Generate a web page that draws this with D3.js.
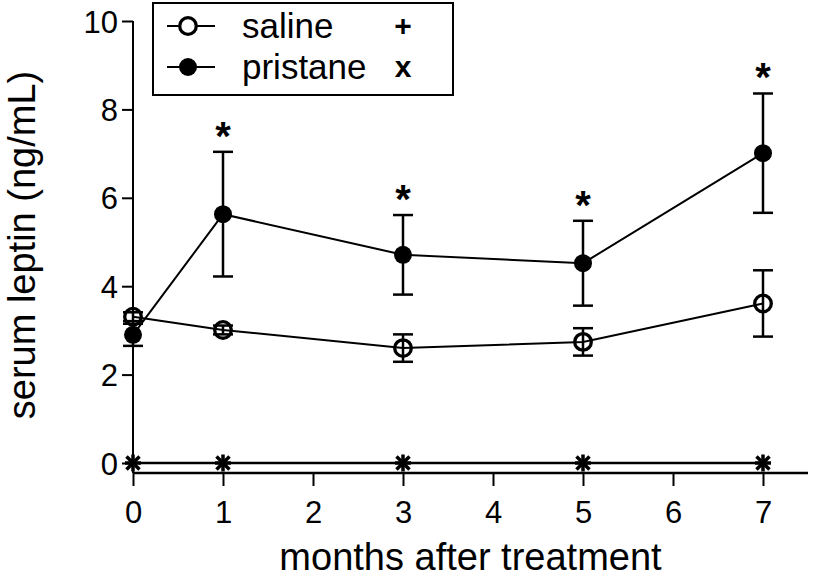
<!DOCTYPE html>
<html>
<head>
<meta charset="utf-8">
<script src="https://cdn.jsdelivr.net/npm/d3@7"></script>
<style>
  body { margin: 0; background: #fff; }
  text { font-family: "Liberation Sans", Arial, sans-serif; fill: #000; }
</style>
</head>
<body>
<div id="chart"></div>
<script>
// Data
var months = [0, 1, 3, 5, 7];
var salineMean = [3.31, 3.01, 2.6, 2.74, 3.61];
var salineSem = [0.1, 0.1, 0.31, 0.31, 0.75];
var pristaneMean = [2.9, 5.63, 4.71, 4.52, 7.01];
var pristaneSem = [0.25, 1.41, 0.9, 0.96, 1.35];
var zeroSeries = [0, 0, 0, 0, 0];
var signif = [false, true, true, true, true];
var xTicks = [0, 1, 2, 3, 4, 5, 6, 7];
var yTicks = [0, 2, 4, 6, 8, 10];

var svgWidth = 814;
var svgHeight = 580;

var svg = d3.select("#chart")
  .append("svg")
  .attr("width", svgWidth)
  .attr("height", svgHeight);

var x = d3.scaleLinear().domain([0, 7]).range([133, 763]);
var y = d3.scaleLinear().domain([0, 10]).range([463, 21]);
var xAxisY = 473;
var xAxisEnd = 808;

// y axis
var yAxis = svg.append("g")
  .attr("transform", "translate(133,0)")
  .call(d3.axisLeft(y).tickValues(yTicks).tickSize(11).tickPadding(4).tickSizeOuter(0));
yAxis.select(".domain").remove();
yAxis.selectAll("line").attr("stroke", "#000").attr("stroke-width", 2);
yAxis.selectAll("text").style("font-size", "31px").attr("dy", "0.36em");
svg.append("line")
  .attr("x1", 133).attr("x2", 133)
  .attr("y1", y(10)).attr("y2", xAxisY)
  .attr("stroke", "#000").attr("stroke-width", 2);

// x axis (offset below zero)
var xAxis = svg.append("g")
  .attr("transform", `translate(0, ${xAxisY})`)
  .call(d3.axisBottom(x).tickValues(xTicks).tickFormat(d3.format("d"))
    .tickSize(13).tickPadding(15).tickSizeOuter(0));
xAxis.select(".domain").remove();
xAxis.selectAll("line").attr("stroke", "#000").attr("stroke-width", 2);
xAxis.selectAll("text").style("font-size", "31px");
svg.append("line")
  .attr("x1", 133).attr("x2", xAxisEnd)
  .attr("y1", xAxisY).attr("y2", xAxisY)
  .attr("stroke", "#000").attr("stroke-width", 2.5);

// axis titles
svg.append("text")
  .attr("x", (133 + xAxisEnd) / 2)
  .attr("y", 570)
  .attr("text-anchor", "middle")
  .style("font-size", "38px")
  .text("months after treatment");

svg.append("text")
  .attr("transform", "rotate(-90)")
  .attr("x", -245)
  .attr("y", 35)
  .attr("text-anchor", "middle")
  .style("font-size", "38px")
  .text("serum leptin (ng/mL)");

var line = d3.line()
  .x(function(d) { return x(d[0]); })
  .y(function(d) { return y(d[1]); });

function drawSeries(means, sems, filled) {
  var pts = months.map(function(m, i) { return [m, means[i], sems[i]]; });
  var g = svg.append("g");
  // error bars
  pts.forEach(function(p) {
    var lo = y(p[1] - p[2]), hi = y(p[1] + p[2]), cx = x(p[0]);
    g.append("line").attr("x1", cx).attr("x2", cx).attr("y1", lo).attr("y2", hi)
      .attr("stroke", "#000").attr("stroke-width", 2.5);
    [lo, hi].forEach(function(yy) {
      g.append("line").attr("x1", cx - 10).attr("x2", cx + 10).attr("y1", yy).attr("y2", yy)
        .attr("stroke", "#000").attr("stroke-width", 2.5);
    });
  });
  g.append("path")
    .datum(pts)
    .attr("d", line)
    .attr("fill", "none")
    .attr("stroke", "#000")
    .attr("stroke-width", 2);
  g.selectAll("circle")
    .data(pts)
    .enter()
    .append("circle")
    .attr("cx", function(d) { return x(d[0]); })
    .attr("cy", function(d) { return y(d[1]); })
    .attr("r", filled ? 9 : 8.3)
    .attr("fill", filled ? "#000" : "none")
    .attr("stroke", "#000")
    .attr("stroke-width", filled ? 0 : 3.3);
}

// zero line with + and x markers
svg.append("path")
  .datum(months.map(function(m, i) { return [m, zeroSeries[i]]; }))
  .attr("d", line)
  .attr("fill", "none")
  .attr("stroke", "#000")
  .attr("stroke-width", 2.5);

months.forEach(function(m, i) {
  var cx = x(m), cy = y(zeroSeries[i]);
  svg.append("path").attr("d", "M-8,0H8M0,-8.5V8.5")
    .attr("transform", `translate(${cx},${cy})`)
    .attr("stroke", "#000").attr("stroke-width", 3.5).attr("fill", "none");
  svg.append("path").attr("d", "M-6.5,-6.5L6.5,6.5M-6.5,6.5L6.5,-6.5")
    .attr("transform", `translate(${cx},${cy})`)
    .attr("stroke", "#000").attr("stroke-width", 3.5).attr("fill", "none");
});

drawSeries(salineMean, salineSem, false);
drawSeries(pristaneMean, pristaneSem, true);

// significance asterisks
months.forEach(function(m, i) {
  if (!signif[i]) return;
  svg.append("text")
    .attr("x", x(m))
    .attr("y", y(pristaneMean[i] + pristaneSem[i]) - 2)
    .attr("text-anchor", "middle")
    .style("font-size", "40px")
    .style("font-weight", "bold")
    .text("*");
});

// legend
var legend = svg.append("g");
legend.append("rect")
  .attr("x", 153).attr("y", 3)
  .attr("width", 300).attr("height", 92)
  .attr("fill", "#fff")
  .attr("stroke", "#000")
  .attr("stroke-width", 2);

var legendItems = [
  { label: "saline", mark: "+", filled: false, cy: 26 },
  { label: "pristane", mark: "x", filled: true, cy: 67 }
];
legendItems.forEach(function(d) {
  legend.append("line")
    .attr("x1", 167).attr("x2", 215).attr("y1", d.cy).attr("y2", d.cy)
    .attr("stroke", "#000").attr("stroke-width", 2);
  legend.append("circle")
    .attr("cx", 188).attr("cy", d.cy)
    .attr("r", d.filled ? 9 : 8.3)
    .attr("fill", d.filled ? "#000" : "#fff")
    .attr("stroke", "#000")
    .attr("stroke-width", d.filled ? 0 : 3.3);
  legend.append("text")
    .attr("x", 242).attr("y", d.cy + 12)
    .style("font-size", "35px")
    .text(d.label);
  legend.append("text")
    .attr("x", 403).attr("y", d.cy + 10)
    .attr("text-anchor", "middle")
    .style("font-size", "30px")
    .style("font-weight", "bold")
    .text(d.mark);
});
</script>
</body>
</html>
